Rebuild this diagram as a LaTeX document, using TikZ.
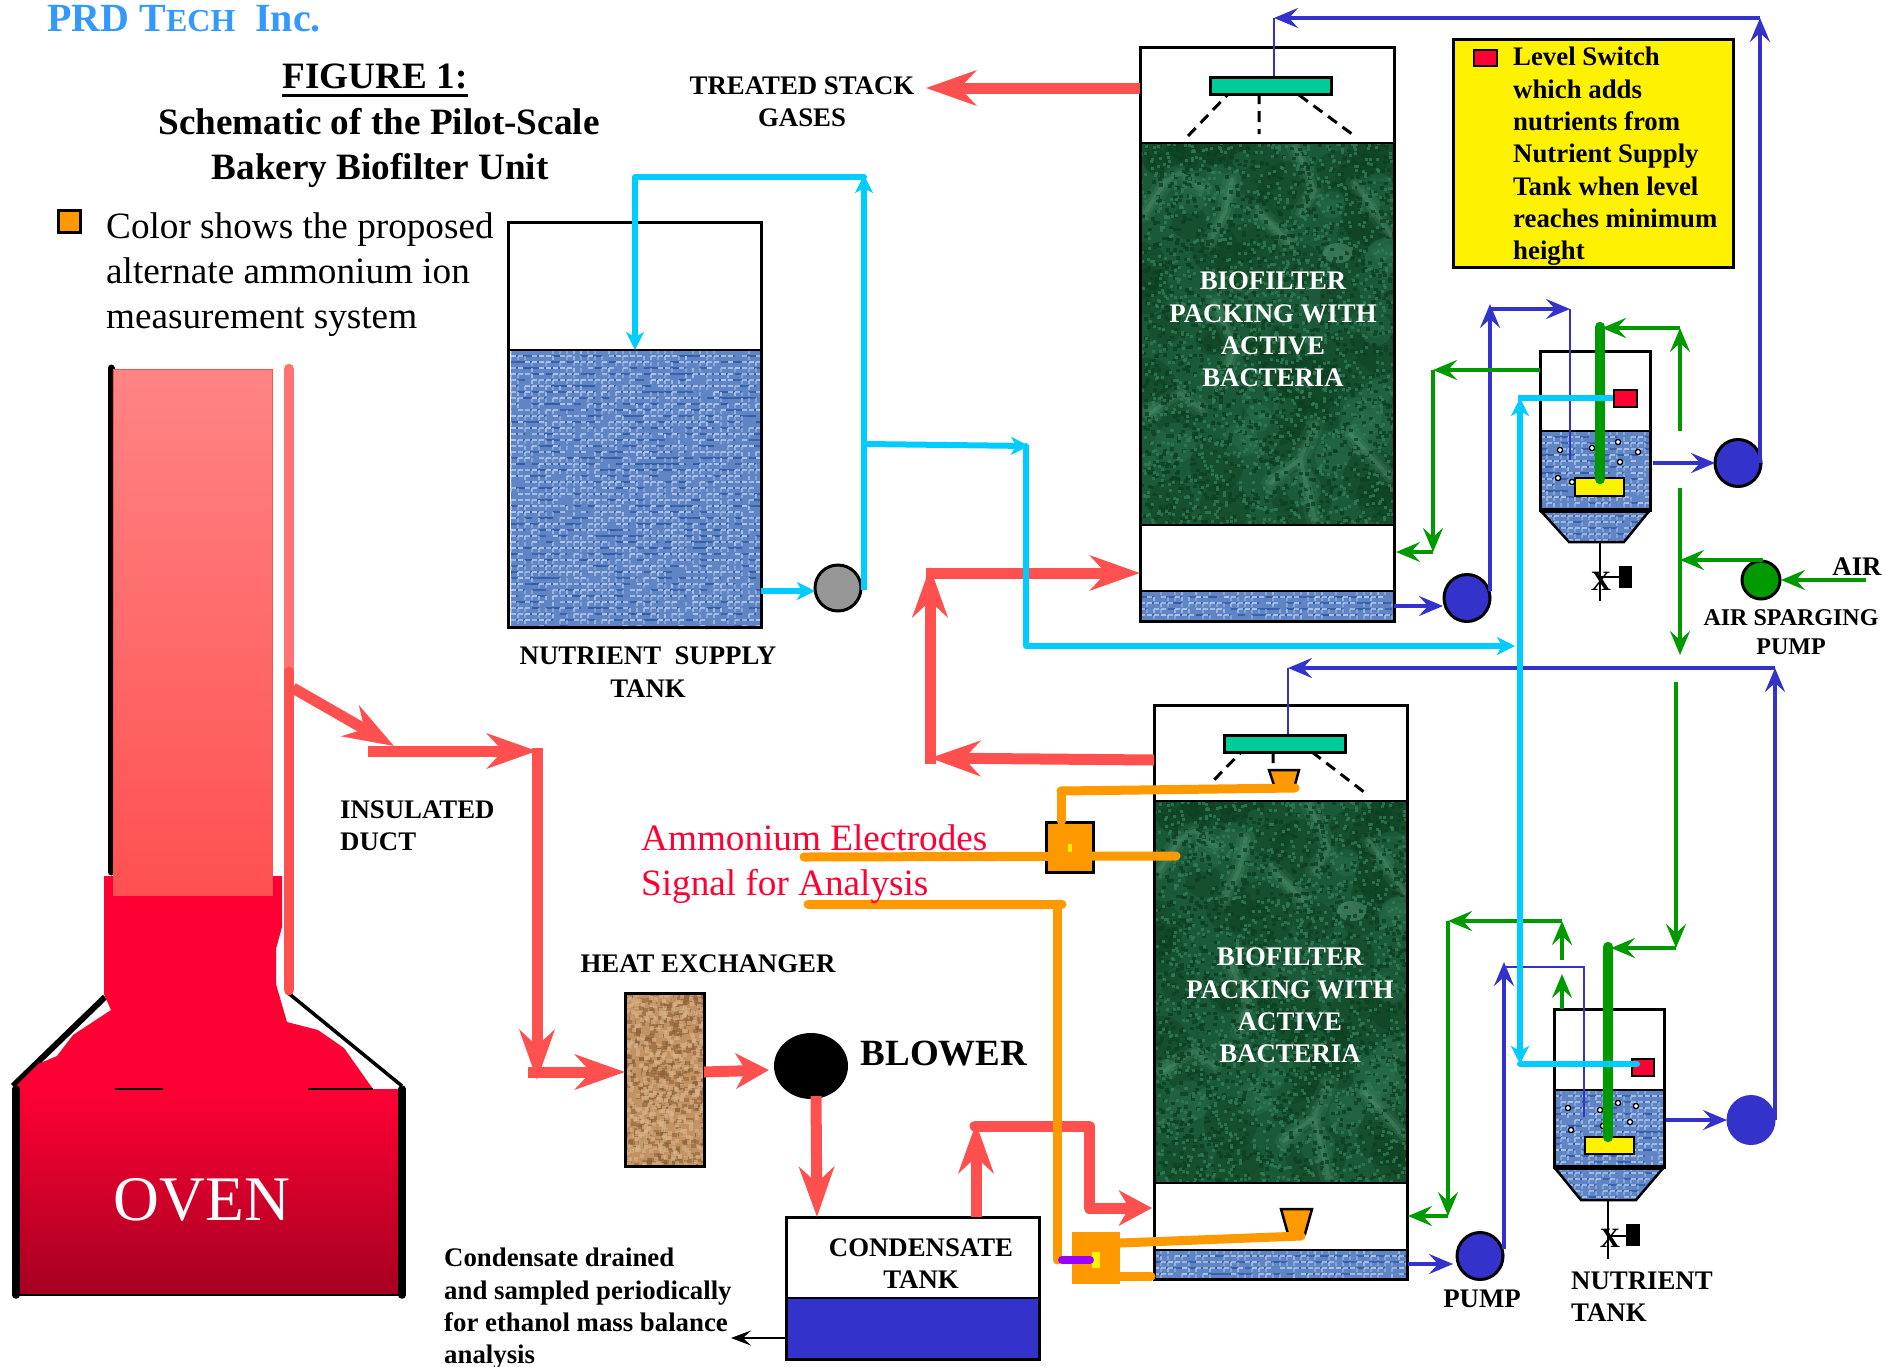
\documentclass[tikz,border=0pt]{standalone}
\usepackage{fontspec}
\setmainfont{Liberation Serif}
\usetikzlibrary{arrows.meta,shapes.geometric}
\definecolor{pred}{HTML}{FF5050}
\definecolor{pblue}{HTML}{3333CC}
\definecolor{pgreen}{HTML}{009900}
\definecolor{pcyan}{HTML}{00CCFF}
\definecolor{porange}{HTML}{FF9900}
\definecolor{pteal}{HTML}{00CC99}
\definecolor{pswitch}{HTML}{FF0033}
\definecolor{ppurple}{HTML}{9900FF}
\definecolor{pgray}{HTML}{969696}
\definecolor{ptitle}{HTML}{3399FF}
\definecolor{fabbase}{HTML}{5F85C4}
\definecolor{fabdark}{HTML}{335EA6}
\definecolor{fablight}{HTML}{AEC4EA}
\definecolor{mbase}{HTML}{1B5A38}
\definecolor{mdark}{HTML}{0C3F20}
\definecolor{mmid}{HTML}{2F7A55}
\definecolor{mlight}{HTML}{6DB08D}
\definecolor{bbase}{HTML}{C39263}
\definecolor{bdark}{HTML}{8C5F36}
\definecolor{blight}{HTML}{D9B48A}
\newcommand\pickweave[7]{%
  \foreach \cc in {1,...,\wn}{%
    \draw[#5,line width=#7pt] \foreach \k [evaluate=\k as \px using {#1+7*floor(rnd*(#3-#1)/7)}, evaluate=\k as \py using {#2+6*floor(rnd*(#4-#2)/6)}] in {1,...,100}{(\px,\py)--++#6};
  }}
\newcommand\weave[4]{%
  \fill[fabbase] (#1,#2) rectangle (#3,#4);
  \pgfmathtruncatemacro\wn{(#3-#1)/10*(#4-#2)/100*0.22+1}%
  \pickweave{#1}{#2}{#3}{#4}{fabdark,opacity=.85}{(6.5,0)}{2.6}
  \pickweave{#1}{#2}{#3}{#4}{fablight,opacity=.85}{(5,0)}{2}
  \pickweave{#1}{#2}{#3}{#4}{fablight,opacity=.5}{(0,4)}{2.2}
}
\newcommand\speck[4]{% colour, chunks, width, height
  \foreach \cc in {1,...,#2}{%
    \draw[#1,line width=#4pt] \foreach \k [evaluate=\k as \px using {rnd*\bw}, evaluate=\k as \py using {rnd*\bh}] in {1,...,100}{(\px,\py)--++(#3,0)};
  }}
\newcommand\marble[2]{%
  \begin{scope}[shift={(#1,#2)}]
    \def\bw{253}\def\bh{382}
    \clip (0,0) rectangle (253,382);
    \fill[mbase] (0,0) rectangle (253,382);
    \pgfmathsetseed{4242}
    \foreach \cc in {1,...,50}{\fill[mdark,opacity=.4] ({rnd*253},{rnd*382}) circle[radius={10+rnd*24}];}
    \foreach \cc in {1,...,30}{\fill[mmid,opacity=.3] ({rnd*253},{rnd*382}) circle[radius={6+rnd*16}];}
    \foreach \w/\o in {18/.10,10/.14,4/.22}{%
      \draw[mlight,opacity=\o,line width=\w pt,line cap=round,line join=round]
        (25,39) -- (40,30) -- (62,45) (92,37) -- (85,69) -- (70,100)
        (155,4) -- (165,25) -- (175,48) -- (160,70)
        (175,282) -- (160,316) -- (175,377) (160,316) -- (130,340)
        (75,160) -- (95,205) -- (85,230) (210,291) -- (250,335) (5,70) -- (25,39)
        (120,70) -- (150,100) (10,270) -- (40,250) -- (60,265) (215,40) -- (250,90);
    }
    \fill[mlight,opacity=.4] (198,110) ellipse[x radius=15,y radius=10];
    \speck{mdark,opacity=.75}{16}{4}{3.5}
    \speck{mmid,opacity=.8}{16}{3}{3}
  \end{scope}}
\newcommand\burlap[4]{%
  \fill[bbase] (#1,#2) rectangle (#3,#4);
  \begin{scope}[shift={(#1,#2)}]
    \pgfmathsetmacro\bw{#3-#1}\pgfmathsetmacro\bh{#4-#2}
    \clip (0,0) rectangle (\bw,\bh);
    \speck{bdark,opacity=.55}{5}{5}{4}
    \speck{blight,opacity=.6}{5}{4}{4}
  \end{scope}}
\tikzset{
  lab/.style={font=\fontsize{26.8}{32.3}\selectfont\bfseries,inner sep=0pt,align=center},
  labl/.style={lab,align=left,anchor=west},
  big/.style={font=\fontsize{37.2}{45}\selectfont,inner sep=0pt,anchor=base west},
  bigb/.style={font=\fontsize{37.2}{45}\selectfont\bfseries,inner sep=0pt,anchor=base},
  wlab/.style={lab,text=white},
  vessel/.style={draw=black,line width=3pt,inner sep=0pt,anchor=north west,xshift=-1.2pt,yshift=1.2pt},
  pumpnode/.style={ellipse,draw=black,line width=3pt,fill=pblue,inner sep=0pt,minimum width=46pt,minimum height=47pt},
  rpipe/.style={draw=pred,line width=11pt},
  rarrow/.style={rpipe,-{Stealth[length=50pt,width=35pt,inset=16pt]}},
  rarrowshort/.style={rpipe,-{Stealth[length=33pt,width=35pt,inset=10pt]}},
  bpipe/.style={draw=pblue,line width=3.5pt},
  barrow/.style={bpipe,-{Stealth[length=24pt,width=20pt,inset=9pt]}},
  gpipe/.style={draw=pgreen,line width=3.5pt},
  garrow/.style={gpipe,-{Stealth[length=24pt,width=20pt,inset=9pt]}},
  cpipe/.style={draw=pcyan,line width=6pt},
  carrow/.style={cpipe,-{Stealth[length=18pt,width=18pt,inset=5pt]}},
  opipe/.style={draw=porange,line width=9pt,line cap=round},
  spray/.style={draw=black,line width=3pt,dash pattern=on 11pt off 7pt},
}
\begin{document}
\begin{tikzpicture}[x=1pt,y=-1pt]
\useasboundingbox (0,0) rectangle (1886,1366);
% ----- textures -----
\pgfmathsetseed{77}
\weave{511}{350}{761}{627}
\weave{1140}{591}{1394}{621}
\weave{1154}{1250}{1407}{1279}
\marble{1140}{143}
\marble{1154}{801}
\begin{scope}\clip (1540,431) rectangle (1650,510);\weave{1540}{431}{1650}{510}\end{scope}
\begin{scope}\clip (1540,510) -- (1650,510) -- (1624,542) -- (1569,542) -- cycle;\weave{1540}{510}{1650}{542}\end{scope}
\begin{scope}\clip (1554,1090) rectangle (1664,1167);\weave{1554}{1090}{1664}{1167}\end{scope}
\begin{scope}\clip (1554,1167) -- (1664,1167) -- (1636,1200) -- (1581,1200) -- cycle;\weave{1554}{1167}{1664}{1200}\end{scope}
\burlap{625}{993}{704}{1166}
\fill[pblue] (786,1298) rectangle (1039,1359);
% ----- vessels -----
\node[vessel,minimum width=254pt,minimum height=574pt] (tower1) at (1140,47) {};
\node[vessel,minimum width=253pt,minimum height=574pt] (tower2) at (1154,705) {};
\node[vessel,minimum width=253pt,minimum height=405pt] (supply) at (508,222) {};
\node[vessel,minimum width=79pt,minimum height=173pt] (hx) at (625,993) {};
\node[vessel,minimum width=253pt,minimum height=142pt] (cond) at (786,1217) {};
\node[vessel,minimum width=110pt,minimum height=159pt] (small1) at (1540,351) {};
\node[vessel,minimum width=110pt,minimum height=158pt] (small2) at (1554,1009) {};
\draw[black,line width=2.5pt] (1140,143) -- (1394,143) (1140,525) -- (1394,525) (1140,591) -- (1394,591);
\draw[black,line width=2.5pt] (1154,801) -- (1407,801) (1154,1183) -- (1407,1183) (1154,1250) -- (1407,1250);
\draw[black,line width=2.5pt] (508,350) -- (761,350) (786,1298) -- (1039,1298);
\draw[black,line width=2.5pt] (1540,431) -- (1650,431) (1554,1090) -- (1664,1090);
\draw[black,line width=5pt] (1540,510) -- (1650,510) (1554,1167) -- (1664,1167);
\draw[black,line width=2.5pt] (1540,510) -- (1569,542) -- (1624,542) -- (1650,510);
\draw[black,line width=2.5pt] (1554,1167) -- (1581,1200) -- (1636,1200) -- (1664,1167);
% ----- spray bars -----
\draw[spray] (1233,89) -- (1187,137) (1259,93) -- (1259,134) (1299,95) -- (1352,134);
\draw[spray] (1247,746) -- (1213,781) (1273,752) -- (1273,763) (1312,752) -- (1364,792);
\node[draw=black,line width=2.5pt,fill=pteal,inner sep=0pt,minimum width=121pt,minimum height=17pt,anchor=north west] (bar1) at (1209,76) {};
\node[draw=black,line width=2.5pt,fill=pteal,inner sep=0pt,minimum width=121pt,minimum height=17pt,anchor=north west] (bar2) at (1223,734) {};
% ----- oven -----
\draw[black,line width=6pt] (105,997) -- (13,1086);
\draw[black,line width=3.5pt] (287,992) -- (402,1086);
\fill[pswitch] (104,876) -- (282,876) -- (282,888) -- (282,927) -- (276,949) -- (276,984) -- (287,1022) -- (318,1030) -- (344,1048) -- (373,1089) -- (13,1089) -- (38,1064) -- (57,1056) -- (73,1035) -- (111,1010) -- (104,994) -- cycle;
\shade[top color=pswitch,middle color=pswitch!90!black,bottom color=pswitch!65!black] (15,1089) rectangle (402,1295);
\draw[black,line width=1.5pt] (15,1295) -- (402,1295);
\draw[black,line width=2pt] (115,1089) -- (163,1089) (308,1089) -- (373,1089);
\draw[black,line width=7.5pt,line cap=round] (16,1089) -- (16,1295) (402,1089) -- (402,1295);
\draw[black,line width=7pt,line cap=round] (111,368) -- (111,872);
\shade[top color=pred!70!white,bottom color=pred] (113,369) rectangle (272,895);
\draw[pred,line width=1pt] (113,369) rectangle (272,895);
\node[font=\fontsize{63.5}{70}\selectfont,text=white,inner sep=0pt] (ovenlabel) at (202,1200) {OVEN};
\coordinate (ductTop) at (289,369);
\coordinate (ductMid) at (289,672);
\coordinate (ductBot) at (289,990);
\draw[draw=pred!80!white,line width=10.5pt,line cap=round] (ductTop) -- (ductMid);
\draw[draw=pred,line width=10.5pt,line cap=round] (ductMid) -- (ductBot);
% ----- red gas pipes -----
\coordinate (d1) at (293,688); \coordinate (d2) at (394,746); \coordinate (d3) at (368,751);
\coordinate (d4) at (537,751); \coordinate (d5) at (537,748); \coordinate (d6) at (537,1080);
\coordinate (d7) at (528,1072); \coordinate (d8) at (625,1072);
\draw[rarrow] (d1) -- (d2);
\draw[rarrow] (d3) -- (d4);
\draw[rarrow] (d5) -- (d6);
\draw[rarrow] (d7) -- (d8);
\node[ellipse,fill=black,inner sep=0pt,minimum width=74pt,minimum height=66pt] (blower) at (811,1066) {};
\coordinate (hxout) at (704,1072); \coordinate (blin) at (769,1070);
\coordinate (blout) at (816,1096); \coordinate (condin) at (817,1217);
\draw[rarrowshort] (hxout) -- (blin);
\draw[rarrow] (blout) -- (condin);
\coordinate (c1) at (976,1217); \coordinate (c2) at (976,1123);
\coordinate (c3) at (975,1126); \coordinate (c4) at (1089,1126); \coordinate (c5) at (1089,1208); \coordinate (c6) at (1152,1208);
\draw[rarrow] (c1) -- (c2);
\draw[rpipe,line cap=round,line join=round] (c3) -- (c4) -- (c5) -- (1100,1208);
\draw[rarrowshort] (c5) -- (c6);
\coordinate (t2out) at (1154,760); \coordinate (t2a) at (930,758); \coordinate (t2b) at (930,764); \coordinate (t2c) at (930,567);
\coordinate (t1ina) at (926,573); \coordinate (t1in) at (1140,573);
\draw[rarrow] (t2out) -- (t2a);
\draw[rarrow] (t2b) -- (t2c);
\draw[rarrow] (t1ina) -- (t1in);
\coordinate (t1stack) at (1140,88); \coordinate (stackend) at (926,88);
\draw[rarrow] (t1stack) -- (stackend);
% ----- pumps -----
\node[pumpnode] (pump1) at (1467,598) {};
\node[pumpnode] (pump2) at (1738,463) {};
\node[pumpnode] (pump3) at (1480,1256) {};
\node[pumpnode,draw=pblue] (pump4) at (1751,1120) {};
\node[pumpnode,fill=pgray,minimum height=46pt] (pump5) at (838,588) {};
\node[pumpnode,fill=pgreen,minimum width=38pt,minimum height=38pt] (airpump) at (1761,580) {};
% ----- blue liquid pipes -----
\coordinate (b1) at (1394,606); \coordinate (b2) at (1443,606);
\coordinate (b3) at (1490,591); \coordinate (b4) at (1490,304); \coordinate (b5) at (1490,309); \coordinate (b6) at (1570,309); \coordinate (b7) at (1570,460);
\coordinate (b8) at (1653,463); \coordinate (b9) at (1715,463);
\coordinate (b10) at (1760,463); \coordinate (b11) at (1760,18); \coordinate (b12) at (1274,18); \coordinate (b13) at (1274,76);
\draw[barrow] (b1) -- (b2);
\draw[barrow] (b3) -- (b4);
\draw[barrow] (b5) -- (b6);
\draw[draw=pblue,line width=2pt] (b6) -- (b7);
\draw[barrow] (b8) -- (b9);
\draw[barrow] (b10) -- (b11);
\draw[barrow] (b11) -- (b12);
\draw[draw=pblue,line width=2.5pt] (b12) -- (b13);
\coordinate (e1) at (1408,1264); \coordinate (e2) at (1453,1264);
\coordinate (e3) at (1504,1249); \coordinate (e4) at (1504,962); \coordinate (e5) at (1504,967); \coordinate (e6) at (1584,967); \coordinate (e7) at (1584,1117);
\coordinate (e8) at (1666,1120); \coordinate (e9) at (1727,1120);
\coordinate (e10) at (1775,1120); \coordinate (e11) at (1775,668); \coordinate (e12) at (1288,668); \coordinate (e13) at (1288,734);
\draw[barrow] (e1) -- (e2);
\draw[barrow] (e3) -- (e4);
\draw[draw=pblue,line width=2pt] (e5) -- (e6) -- (e7);
\draw[barrow] (e8) -- (e9);
\draw[barrow] (e10) -- (e11);
\draw[barrow] (e11) -- (e12);
\draw[draw=pblue,line width=2.5pt] (e12) -- (e13);
% ----- green air pipes -----
\coordinate (g1) at (1540,370); \coordinate (g2) at (1433,370); \coordinate (g3) at (1433,552); \coordinate (g4) at (1396,552);
\coordinate (g5) at (1680,431); \coordinate (g6) at (1680,328); \coordinate (g7) at (1602,328);
\coordinate (g8) at (1680,488); \coordinate (g9) at (1680,655);
\coordinate (g10) at (1763,560); \coordinate (g11) at (1680,560);
\coordinate (g12) at (1866,580); \coordinate (g13) at (1781,580);
\draw[garrow] (g1) -- (g2);
\draw[garrow] (g2) -- (g3);
\draw[garrow] (g3) -- (g4);
\draw[garrow] (g5) -- (g6);
\draw[garrow] (g6) -- (g7);
\draw[garrow] (g8) -- (g9);
\draw[garrow] (g10) -- (g11);
\draw[garrow] (g12) -- (g13);
\coordinate (h1) at (1676,682); \coordinate (h2) at (1676,948); \coordinate (h3) at (1611,948);
\coordinate (h4) at (1562,1009); \coordinate (h5) at (1562,974); \coordinate (h6) at (1562,960); \coordinate (h7) at (1562,921);
\coordinate (h8) at (1448,921); \coordinate (h9) at (1448,1216); \coordinate (h10) at (1408,1216);
\draw[garrow] (h1) -- (h2);
\draw[garrow] (h2) -- (h3);
\draw[garrow] (h4) -- (h5);
\draw[garrow] (h6) -- (h7);
\draw[garrow] (h7) -- (h8);
\draw[garrow] (h8) -- (h9);
\draw[garrow] (h9) -- (h10);
% ----- small tank internals -----
\foreach \p in {(1560,450),(1592,448),(1618,442),(1638,452),(1620,462),(1558,478),(1572,482),(1568,1108),(1600,1110),(1618,1103),(1636,1106),(1630,1122),(1571,1130),(1603,1126)}
  \draw[black,line width=1.3pt,fill=white] \p circle[radius=2.6];
\node[draw=black,line width=2pt,fill=yellow,inner sep=0pt,minimum width=49pt,minimum height=18pt,anchor=north west] (sparge1) at (1574,477) {};
\node[draw=black,line width=2pt,fill=yellow,inner sep=0pt,minimum width=49pt,minimum height=17pt,anchor=north west] (sparge2) at (1584,1136) {};
\coordinate (s1a) at (1600,327); \coordinate (s1b) at (1600,479);
\coordinate (s2a) at (1608,947); \coordinate (s2b) at (1608,1137);
\draw[pgreen,line width=10.5pt,line cap=round] (s1a) -- (s1b);
\draw[pgreen,line width=10.5pt,line cap=round] (s2a) -- (s2b);
\node[draw=black,line width=1.5pt,fill=pswitch,inner sep=0pt,minimum width=23pt,minimum height=17pt,anchor=north west] (sw1) at (1613,389) {};
\node[draw=black,line width=1.5pt,fill=pswitch,inner sep=0pt,minimum width=22pt,minimum height=17pt,anchor=north west] (sw2) at (1631,1058) {};
% valves
\draw[black,line width=2.5pt] (1600,542) -- (1600,601) (1601,577) -- (1620,577);
\fill[black] (1619,566) rectangle (1632,588);
\node[inner sep=0pt,font=\fontsize{28}{28}\selectfont\bfseries] (valve1) at (1601,581) {X};
\draw[black,line width=2.5pt] (1608,1200) -- (1608,1259) (1609,1236) -- (1626,1236);
\fill[black] (1626,1224) rectangle (1640,1246);
\node[inner sep=0pt,font=\fontsize{28}{28}\selectfont\bfseries] (valve2) at (1610,1238) {X};
% ----- cyan pipes -----
\coordinate (k1) at (761,591); \coordinate (k2) at (815,591);
\coordinate (k3) at (864,590); \coordinate (k4) at (864,175); \coordinate (k5) at (864,177); \coordinate (k6) at (635,177); \coordinate (k7) at (635,350);
\coordinate (k8) at (866,444); \coordinate (k9) at (1029,446); \coordinate (k10) at (1026,446); \coordinate (k11) at (1026,646); \coordinate (k12) at (1515,646);
\draw[carrow] (k1) -- (k2);
\draw[carrow] (k3) -- (k4);
\draw[cpipe,line cap=round] (k5) -- (k6);
\draw[carrow] (k6) -- (k7);
\draw[carrow] (k8) -- (k9);
\draw[cpipe,line cap=round] (k10) -- (k11);
\draw[carrow] (k11) -- (k12);
\coordinate (m1) at (1520,1064); \coordinate (m2) at (1520,398); \coordinate (m3) at (1518,398); \coordinate (m4) at (1613,398); \coordinate (m5) at (1637,1064); \coordinate (m6) at (1520,700);
\draw[carrow] (m6) -- (m1);
\draw[carrow] (m6) -- (m2);
\draw[cpipe] (m3) -- (m4);
\draw[cpipe,line cap=round] (m1) -- (m5);
% ----- orange electrode lines -----
\node[draw=black,line width=2.5pt,fill=porange,inner sep=0pt,minimum width=47pt,minimum height=50pt,anchor=north west] (elec1) at (1045,821) {};
\fill[yellow] (1064,844) rectangle (1072,860);
\fill[porange] (1064,844) rectangle (1068,852);
\node[fill=porange,inner sep=0pt,minimum width=48pt,minimum height=52pt,anchor=north west] (elec2) at (1072,1232) {};
\fill[yellow] (1092,1252) rectangle (1100,1268);
\draw[black,line width=2.5pt,fill=porange] (1269,770) -- (1299,770) -- (1294,788) -- (1275,788) -- cycle;
\draw[black,line width=2.5pt,fill=porange] (1281,1209) -- (1312,1209) -- (1305,1234) -- (1288,1234) -- cycle;
\coordinate (o1) at (1061,821); \coordinate (o2) at (1061,791); \coordinate (o3) at (1295,788);
\coordinate (o4) at (804,857); \coordinate (o5) at (1176,856);
\coordinate (o6) at (808,904); \coordinate (o7) at (1062,904); \coordinate (o8) at (1057,904); \coordinate (o9) at (1057,1260);
\coordinate (o10) at (1120,1243); \coordinate (o11) at (1301,1236); \coordinate (o12) at (1120,1276); \coordinate (o13) at (1151,1276);
\draw[opipe] (o1) -- (o2);
\draw[opipe] (o2) -- (o3);
\draw[opipe] (o4) -- (o5);
\draw[opipe] (o6) -- (o7);
\draw[opipe] (o8) -- (o9);
\draw[opipe] (o10) -- (o11);
\draw[opipe] (o12) -- (o13);
\coordinate (o14) at (1090,1260);
\draw[draw=ppurple,line width=8pt,line cap=round] (1062,1260) -- (o14);
% ----- texts -----
\node[anchor=base west,inner sep=0pt,text=ptitle,font=\fontsize{40}{42}\selectfont\bfseries] (brand) at (47,31) {PRD T{\fontsize{32}{33}\selectfont ECH}\ \ Inc.};
\node[bigb] (figtitle) at (375,88) {FIGURE 1:};
\draw[black,line width=3pt] ([yshift=-7pt]figtitle.base west) -- ([yshift=-7pt]figtitle.base east);
\node[bigb] (figsub1) at (379,134) {Schematic of the Pilot-Scale};
\node[bigb] (figsub2) at (380,179) {Bakery Biofilter Unit};
\node[draw=black,line width=2.5pt,fill=porange,inner sep=0pt,minimum width=22pt,minimum height=22pt,anchor=north west] (legend) at (57,209) {};
\node[big] (legt1) at (106,238) {Color shows the proposed};
\node[big] (legt2) at (106,283) {alternate ammonium ion};
\node[big] (legt3) at (106,328) {measurement system};
\node[lab] (treated) at (802,101.5) {TREATED STACK\\GASES};
\node[lab] (nutrlabel) at (648,672) {NUTRIENT\ \ SUPPLY\\TANK};
\node[labl] (insul) at (340,825.5) {INSULATED\\DUCT};
\node[lab] (hxlabel) at (708,964) {HEAT EXCHANGER};
\node[font=\fontsize{37}{37}\selectfont\bfseries,inner sep=0pt] (blowerlabel) at (944,1054) {BLOWER};
\node[lab] (condlabel) at (921,1263.5) {CONDENSATE\\TANK};
\node[labl] (drain) at (444,1309) {Condensate drained\\and sampled periodically\\for ethanol mass balance\\analysis};
\node[big,text=pswitch] (amm) at (641,850) {Ammonium Electrodes};
\node[big,text=pswitch] (sig) at (641,895) {Signal for Analysis};
\node[wlab] (bio1) at (1273,329.5) {BIOFILTER\\PACKING WITH\\ACTIVE\hspace*{7pt}\\BACTERIA};
\node[wlab] (bio2) at (1290,1005.5) {BIOFILTER\\PACKING WITH\\ACTIVE\hspace*{7pt}\\BACTERIA};
\node[lab] (pumplabel) at (1482,1299) {PUMP};
\node[labl] (nutrtank) at (1571,1297) {NUTRIENT\\TANK};
\node[lab] (airlabel) at (1857,567) {AIR};
\node[lab,font=\fontsize{24}{29}\selectfont\bfseries] (sparge) at (1791,632) {AIR SPARGING\\PUMP};
% legend box
\node[draw=black,line width=2.5pt,fill=yellow,inner sep=0pt,minimum width=280pt,minimum height=228pt,anchor=north west,xshift=-1pt,yshift=1pt] (keybox) at (1453,39) {};
\node[draw=black,line width=1.5pt,fill=pswitch,inner sep=0pt,minimum width=23pt,minimum height=16pt,anchor=north west] (keymark) at (1473,49) {};
\node[labl] (keytext) at (1513,156.5) {Level Switch\\which adds\\nutrients from\\Nutrient Supply\\Tank when level\\reaches minimum\\height};
% black drain arrow
\coordinate (dr1) at (786,1338); \coordinate (dr2) at (731,1338);
\draw[black,line width=2.5pt,-{Stealth[length=20pt,width=15pt,inset=8pt]}] (dr1) -- (dr2);
\end{tikzpicture}
\end{document}
